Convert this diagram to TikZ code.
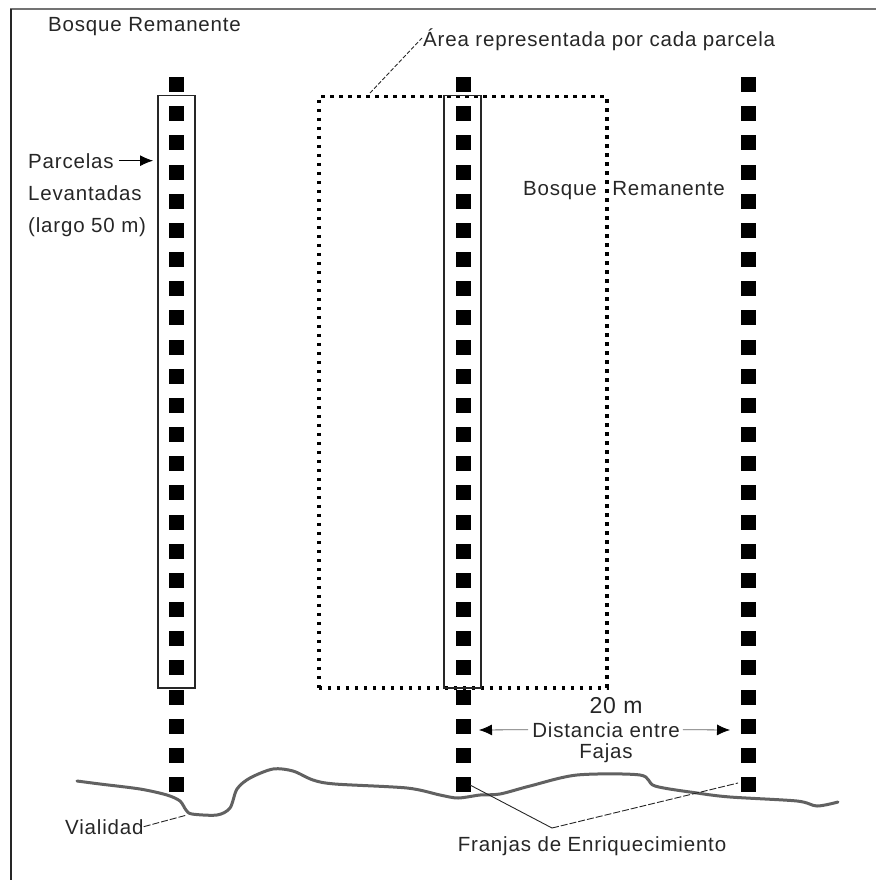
\documentclass[tikz,border=0pt]{standalone}
\usepackage{fontspec}
\setmainfont{Liberation Sans}[LetterSpace=4]
\usetikzlibrary{arrows.meta}
\begin{document}
\begin{tikzpicture}[x=1pt,y=-1pt,
  lbl/.style={inner sep=0pt, font=\fontsize{20.5}{24}\selectfont, text=black!85},
  plotbox/.style={draw=black!85, line width=1.5pt, inner sep=0pt, fill=none},
  dotrect/.style={draw=black, line width=3.5pt, dash pattern=on 3.5pt off 5.5pt, inner sep=0pt},
  road/.style={draw=black!62, line width=3pt, line cap=round, line join=round},
  leader/.style={draw=black!85, line width=0.9pt},
  dleader/.style={leader, dash pattern=on 5pt off 2pt},
  arr/.style={draw=black!60, line width=0.8pt, -{Latex[length=13pt,width=11pt,black]}}
]
\useasboundingbox (0,0) rectangle (876,880);
% frame
\draw[black!55, line width=2pt] (10,9) -- (876,9);
\draw[black!85, line width=1.5pt] (11,9) -- (11,880);
% road
\draw[road] plot[smooth, tension=0.5] coordinates {(77,781) (100,784) (140,789) (167,795) (180,801) (186,810) (192,814) (217,815) (230,808) (237,789) (250,778) (273,769) (293,771) (313,780) (335,784) (407,788) (440,795) (458,798) (480,795) (500,794) (530,786) (577,775) (640,775) (655,786) (697,793) (730,797) (797,801) (817,806) (838,802)};
% dotted area
\node[dotrect, anchor=north west, minimum width=288pt, minimum height=591pt] (area) at (317,95) {};
% squares
\foreach \cx in {176,463,748}
  \foreach \i in {0,...,24}
    \fill ({\cx-7.5},{77+29.17*\i}) rectangle ++(15,15);
% plots
\node[plotbox, anchor=north west, minimum width=37pt, minimum height=592pt] (p1) at (157,95) {};
\node[plotbox, anchor=north west, minimum width=37pt, minimum height=592pt] (p2) at (443,95) {};
% texts
\node[lbl, anchor=base west] (bosq1) at (48,32) {Bosque Remanente};
\node[lbl, anchor=base west] (parc) at (28,168) {Parcelas};
\node[lbl, anchor=base west] (lev) at (28,200) {Levantadas};
\node[lbl, anchor=base west] (largo) at (28,232) {(largo 50 m)};
\node[lbl, anchor=base west] (areaL) at (423,47) {Área representada por cada parcela};
\node[lbl, anchor=base west] (bosq2) at (523,195) {Bosque \hspace{9pt}Remanente};
\node[lbl, anchor=base, font=\fontsize{23}{26}\selectfont] (veinte) at (616,713) {20 m};
\node[lbl, anchor=base] (dist) at (606,737) {Distancia entre};
\node[lbl, anchor=base] (fajas) at (606,758) {Fajas};
\node[lbl, anchor=base] (franjas) at (592,851) {Franjas de Enriquecimiento};
\node[lbl, anchor=base west] (vial) at (65,834) {Vialidad};
% coordinates
\coordinate (aLead) at (370,93);
\coordinate (vRoad) at (187,815);
\coordinate (fj) at (552,828);
\coordinate (sqA) at (470,785);
\coordinate (sqB) at (738,783);
\coordinate (colM) at (479,730);
\coordinate (colR) at (730,730);
% connectors
\draw[arr, draw=black] ([xshift=5pt]parc.east) -- ([xshift=-4pt]p1.west |- parc.east);
\draw[dleader, dash pattern=on 4pt off 2pt] (aLead) -- ([shift={(-1,-9)}]areaL.base west);
\draw[arr] ([xshift=-4pt]dist.west) -- (colM);
\draw[arr] ([xshift=3pt]dist.east) -- (colR);
\draw[dleader, dash pattern=on 7pt off 2pt] (vial.east) -- (vRoad);
\draw[leader] (fj) -- (sqA);
\draw[dleader, dash pattern=on 7pt off 2pt] (fj) -- (sqB);
\end{tikzpicture}
\end{document}
